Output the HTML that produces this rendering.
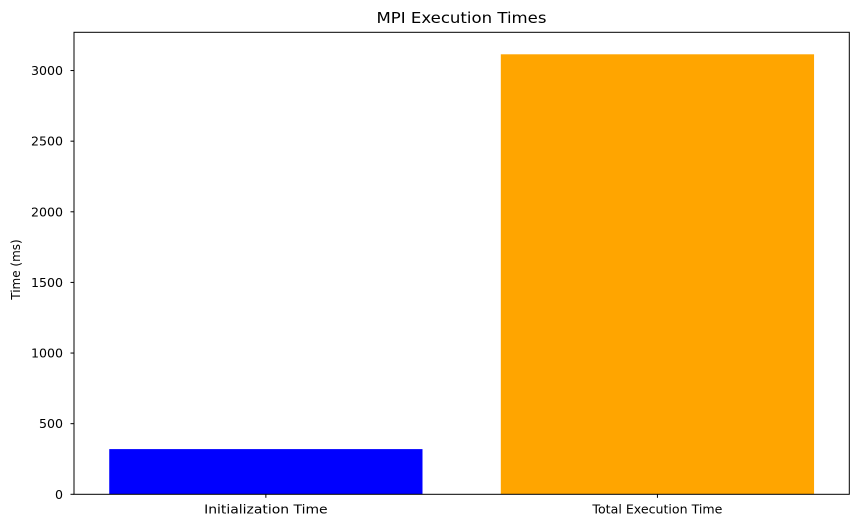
<!DOCTYPE html>
<html><head><meta charset="utf-8"><style>
body{margin:0;background:#fff;}
svg{display:block;font-family:"DejaVu Sans","Liberation Sans",sans-serif;}
</style></head><body>
<svg id="chart" width="859" height="528" viewBox="0 0 859 528" xmlns="http://www.w3.org/2000/svg">
<text x="461.5" y="23" font-size="15" text-anchor="middle" fill="#000" textLength="170" lengthAdjust="spacingAndGlyphs">MPI Execution Times</text>
<text x="0" y="0" font-size="12" text-anchor="middle" transform="translate(20,269.5) rotate(-90)">Time (ms)</text>
<g id="bars"></g>
<g id="yticks"></g>
<g id="xticks"></g>
<rect x="74" y="32.3" width="775.3" height="462" fill="none" stroke="#000" stroke-width="1"/>
</svg>
<script>
const categories = ["Initialization Time", "Total Execution Time"];
const values = [320, 3115];
const colors = ["#0000ff", "#ffa500"];
const yTicks = [0, 500, 1000, 1500, 2000, 2500, 3000];

const L = 74, R = 849.3, T = 32.3, B = 494.3;
const yMax = Math.max(...values) * 1.05;
const xMin = -0.49, xMax = categories.length - 1 + 0.49;
const x = v => L + (v - xMin) / (xMax - xMin) * (R - L);
const y = v => B - v / yMax * (B - T);
const NS = "http://www.w3.org/2000/svg";
function mk(tag, attrs, parent){const e=document.createElementNS(NS,tag);for(const k in attrs)e.setAttribute(k,attrs[k]);parent.appendChild(e);return e;}

const gb = document.getElementById('bars');
categories.forEach((c,i)=>{
  const r = mk('rect',{x:x(i-0.4),y:y(values[i]),width:x(i+0.4)-x(i-0.4),height:B-y(values[i]),fill:colors[i]},gb);
  
  
});
const gy = document.getElementById('yticks');
yTicks.forEach(t=>{
  const l = mk('line',{x1:L-3.5,x2:L,y1:y(t),y2:y(t),stroke:'#000'},gy);
  
  
  const s = String(t);
  const tx = mk('text',{x:L-11,y:y(t)+4.5,'font-size':'12.5','text-anchor':'end',textLength:8*s.length,lengthAdjust:'spacingAndGlyphs'},gy);
  tx.textContent = s;
  
  
});
const gx = document.getElementById('xticks');
categories.forEach((c,i)=>{
  const l = mk('line',{x1:x(i),x2:x(i),y1:B,y2:B+3.5,stroke:'#000'},gx);
  
  
  const tx = mk('text',{x:x(i),y:B+19,'font-size':'12.5','text-anchor':'middle',textLength:c.length*6.5,lengthAdjust:'spacingAndGlyphs'},gx);
  tx.textContent = c;
  
  
});
</script>
</body></html>
